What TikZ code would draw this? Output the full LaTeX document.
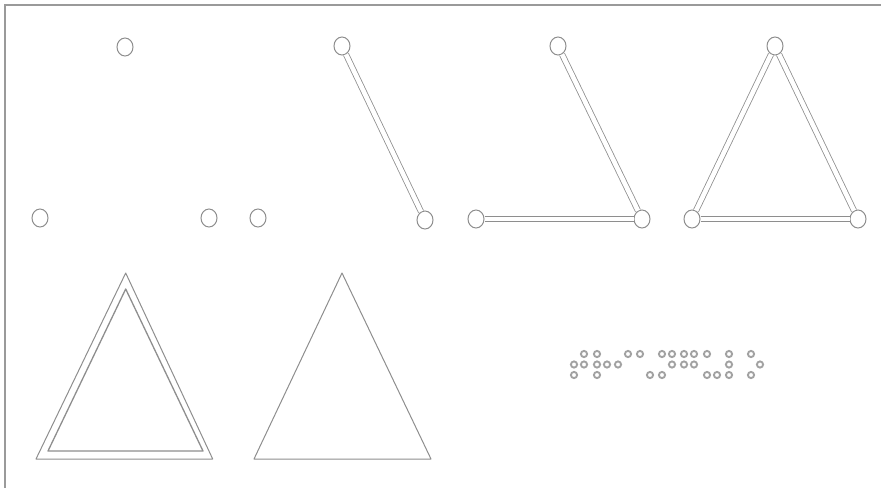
\documentclass[tikz,border=0pt]{standalone}
\usetikzlibrary{shapes.geometric}
\definecolor{Rule}{HTML}{9A9A9A}
\definecolor{Stroke}{HTML}{8E8E8E}
\definecolor{Dot}{HTML}{A2A2A2}
\tikzset{
  vertex/.style={ellipse,draw=Stroke,fill=white,line width=1pt,inner sep=0pt,
    minimum width=16pt,minimum height=18pt},
  rod/.style={draw=Stroke,line width=.8pt,double=white,double distance=4.6pt},
  plate/.style={draw=Stroke,line width=1pt,line join=round},
}
\begin{document}
\begin{tikzpicture}[x=1pt,y=-1pt]
  \useasboundingbox (0,0) rectangle (881,488);
  \draw[Rule,line width=1.4pt] (881,5) -- (5,5) -- (5,488);

  % Step 1: three loose balls.
  \node[vertex] (a1) at (125,47) {};
  \node[vertex] (b1) at (40,218) {};
  \node[vertex] (c1) at (209,218) {};

  % Step 2: one stick.
  \node[vertex] (a2) at (342,46) {};
  \node[vertex] (b2) at (258,218) {};
  \node[vertex] (c2) at (425,220) {};
  \draw[rod] (a2) -- (c2);

  % Step 3: two sticks.
  \node[vertex] (a3) at (558,46) {};
  \node[vertex] (b3) at (476,219) {};
  \node[vertex] (c3) at (642,219) {};
  \draw[rod] (a3) -- (c3);
  \draw[rod] (b3) -- (c3);

  % Step 4: closed frame.
  \node[vertex] (a4) at (775,46) {};
  \node[vertex] (b4) at (692,219) {};
  \node[vertex] (c4) at (858,219) {};
  \draw[rod] (a4) -- (c4);
  \draw[rod] (b4) -- (c4);
  \draw[rod] (a4) -- (b4);

  % Flat triangles.
  \draw[plate] (125.7,273) -- (36,459) -- (212.7,459) -- cycle;
  \draw[plate,line width=1.3pt] (125.7,289) -- (48,451) -- (203,451) -- cycle;
  \draw[plate] (342,273) -- (254,459) -- (431,459) -- cycle;

  % Braille line.
  \foreach \x/\y in {574/364.5,584/354,584/364.5,574/375,
      597/354,597/364.5,607/364.5,597/375,
      618/364.5,628/354,
      640/354,650/375,
      662/375,662/354,672/354,672/364.5,
      684/354,694/354,684/364.5,694/364.5,
      707/354,707/375,717/375,
      729/354,729/364.5,729/375,
      751/354,760/364.5,751/375}
    \draw[Dot,line width=1.9pt] (\x,\y) circle (3.1pt);
\end{tikzpicture}
\end{document}
